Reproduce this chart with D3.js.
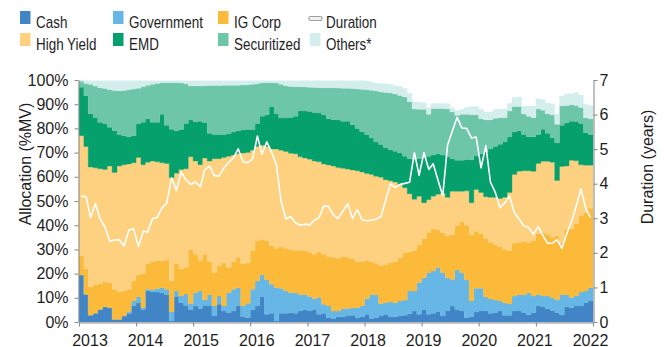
<!DOCTYPE html>
<html>
<head>
<meta charset="utf-8">
<script src="https://cdn.jsdelivr.net/npm/d3@7"></script>
<style>
  html, body { margin: 0; padding: 0; background: #fff; }
  svg { display: block; font-family: "Liberation Sans", Arial, sans-serif; }
</style>
</head>
<body>
<svg id="chart" width="666" height="347"></svg>
<script>
// Monthly portfolio allocation (% of market value), Jan 2013 - Dec 2021
const firstYear = 2013;
const seriesNames = ["Cash", "Government", "IG Corp", "High Yield", "EMD", "Securitized", "Others*"];

const cash = [19.4, 11.4, 2.8, 3.6, 5.2, 6.3, 5.9, 1.0, 1.0, 2.5,
  3.5, 6.6, 8.0, 5.2, 12.8, 12.5, 12.4, 12.1, 11.4, 0.4,
  10.5, 8.0, 6.9, 5.2, 6.6, 5.6, 6.9, 6.6, 2.5, 7.3,
  4.5, 3.9, 4.5, 6.6, 2.2, 1.8, 5.2, 6.6, 10.5, 3.2,
  3.6, 0.4, 3.6, 3.6, 3.9, 3.6, 4.5, 5.2, 4.5, 5.2,
  3.2, 3.6, 1.8, 1.4, 2.2, 2.2, 2.5, 2.8, 1.8, 2.1,
  3.2, 1.4, 1.7, 2.5, 3.2, 2.2, 2.2, 2.5, 2.8, 3.4,
  4.5, 3.2, 5.2, 3.2, 3.6, 4.3, 2.5, 4.5, 6.6, 5.2,
  4.5, 1.8, 2.2, 4.1, 4.8, 4.5, 3.6, 3.9, 4.5, 2.8,
  2.8, 4.5, 4.8, 3.9, 3.0, 3.9, 6.6, 6.2, 5.5, 4.8,
  3.9, 2.9, 6.3, 5.9, 6.6, 6.6, 8.0, 8.7];

const government = [0, 0, 0, 0, 0, 0, 0, 0, 0, 0,
  0.8, 2.1, 2.5, 0.7, 0.7, 0.7, 1.4, 2.1, 2.1, 3.7,
  2.3, 2.7, 4.7, 2.4, 5.5, 7.2, 2.2, 4.8, 4.1, 3.4,
  2.1, 8.2, 9.0, 7.6, 4.4, 5.9, 8.3, 10.3, 8.9, 14.2,
  12.0, 13.8, 10.3, 9.2, 8.2, 8.5, 6.9, 6.2, 6.0, 4.4,
  6.9, 3.7, 4.8, 3.1, 2.3, 3.3, 3.1, 3.0, 4.1, 4.5,
  6.4, 10.0, 9.5, 5.1, 4.8, 6.1, 5.8, 6.2, 6.3, 9.4,
  8.3, 13.1, 13.1, 17.2, 17.5, 18.2, 17.9, 13.8, 11.0, 16.4,
  15.7, 15.6, 6.5, 9.8, 9.1, 5.8, 6.0, 5.2, 4.2, 5.2,
  4.6, 6.2, 6.6, 7.3, 9.1, 6.8, 4.8, 4.5, 5.2, 5.3,
  5.2, 8.5, 4.9, 4.2, 4.1, 5.8, 4.8, 5.5];

const igCorp = [8.1, 10.6, 11.7, 11.7, 10.6, 10.2, 10.3, 12.5, 11.5, 10.3,
  9.2, 8.3, 9.0, 14.1, 10.5, 11.6, 11.5, 11.1, 12.3, 12.9,
  11.2, 11.3, 11.0, 22.4, 15.9, 12.7, 18.9, 13.6, 13.9, 12.6,
  17.9, 10.4, 11.5, 12.6, 17.4, 16.8, 16.0, 16.6, 14.8, 16.1,
  15.9, 16.3, 17.1, 17.7, 17.9, 17.4, 18.3, 17.9, 18.3, 18.4,
  18.9, 20.7, 20.4, 22.3, 21.8, 21.7, 21.2, 20.2, 18.9, 18.4,
  15.7, 13.6, 13.1, 15.7, 15.8, 16.2, 17.0, 17.8, 19.4, 16.2,
  16.7, 15.5, 16.2, 16.6, 17.4, 15.5, 16.6, 17.2, 18.4, 18.4,
  21.3, 22.6, 27.3, 23.6, 22.6, 24.2, 23.4, 22.9, 22.3, 22.0,
  22.1, 21.8, 21.6, 22.1, 20.9, 22.8, 25.1, 26.1, 25.6, 24.9,
  26.4, 21.1, 26.8, 28.4, 29.8, 31.4, 32.4, 32.8];

const highYield = [49.5, 50.5, 49.5, 48.4, 47.5, 46.5, 48.3, 48.3, 52.0, 52.2,
  51.8, 48.8, 48.5, 45.0, 42.0, 41.7, 40.9, 40.5, 39.7, 42.6,
  37.5, 41.0, 40.7, 38.3, 38.5, 39.5, 39.8, 41.5, 47.0, 44.2,
  43.5, 46.0, 44.0, 42.7, 45.8, 45.5, 41.5, 39.0, 38.8, 39.0,
  40.0, 41.0, 40.0, 40.0, 39.7, 40.0, 38.6, 38.5, 38.5, 38.5,
  37.2, 37.3, 37.9, 37.7, 37.5, 36.3, 36.4, 36.8, 37.7, 37.0,
  36.1, 36.0, 35.9, 36.5, 35.0, 33.9, 32.8, 30.3, 27.0, 24.0,
  21.2, 20.2, 14.8, 13.5, 13.5, 14.8, 16.2, 16.0, 18.0, 14.0,
  12.5, 14.2, 13.3, 17.3, 17.0, 17.3, 18.5, 19.5, 20.0, 21.5,
  24.0, 28.5, 29.3, 29.2, 29.5, 28.8, 29.0, 29.6, 30.1, 31.0,
  23.0, 31.8, 26.5, 28.3, 26.1, 21.2, 19.6, 17.8];

const emd = [20.0, 21.0, 22.0, 20.8, 19.2, 19.0, 16.0, 17.2, 13.0, 12.0,
  11.2, 11.2, 14.0, 17.5, 18.0, 16.0, 16.3, 20.0, 15.8, 20.0,
  17.5, 16.5, 18.7, 15.2, 16.1, 18.0, 14.6, 11.5, 10.0, 10.0,
  9.5, 9.3, 9.5, 9.5, 9.5, 9.5, 8.5, 9.5, 12.0, 13.0,
  17.5, 14.5, 13.3, 13.8, 14.8, 15.5, 18.9, 19.4, 19.7, 20.1,
  20.2, 20.2, 19.1, 19.1, 19.7, 19.5, 19.8, 18.7, 17.5, 16.6,
  16.1, 15.0, 14.3, 13.5, 13.2, 12.8, 12.8, 13.0, 13.0, 14.5,
  16.5, 15.5, 18.7, 18.0, 17.0, 16.7, 15.8, 16.9, 13.5, 12.8,
  12.8, 13.0, 17.7, 13.8, 16.0, 18.5, 20.0, 21.0, 22.5, 23.0,
  23.0, 17.5, 16.7, 15.0, 14.0, 14.2, 12.0, 13.2, 11.6, 10.0,
  15.5, 17.0, 17.8, 16.2, 16.2, 17.0, 13.4, 12.7];

const securitized = [2.5, 5.1, 12.2, 13.0, 14.3, 14.5, 15.5, 16.7, 18.1, 18.7,
  19.5, 19.3, 14.6, 14.7, 13.8, 15.7, 16.1, 13.1, 17.6, 19.3,
  19.9, 19.3, 16.5, 14.1, 14.9, 14.5, 15.2, 19.7, 20.2, 20.2,
  20.3, 20.0, 19.3, 18.8, 18.6, 18.5, 18.7, 16.5, 13.8, 13.4,
  9.9, 12.8, 13.9, 13.3, 12.8, 12.2, 10.0, 9.9, 10.0, 10.3,
  10.4, 11.3, 12.8, 13.2, 13.2, 13.6, 13.6, 15.0, 16.3, 17.6,
  18.5, 19.8, 21.0, 21.7, 22.8, 23.4, 23.6, 23.8, 24.5, 23.5,
  20.8, 20.4, 19.9, 17.3, 19.2, 18.7, 19.2, 19.6, 19.3, 18.6,
  19.0, 18.6, 18.6, 17.0, 14.5, 13.2, 12.0, 11.7, 10.9, 9.9,
  10.7, 10.5, 10.0, 8.5, 8.5, 7.9, 10.5, 7.9, 8.0, 9.5,
  7.7, 8.0, 7.2, 6.8, 6.7, 6.6, 6.2, 6.5];

const others = [0.5, 1.2, 1.5, 2.2, 2.9, 3.2, 3.7, 4.0, 4.1, 4.0,
  3.7, 3.4, 3.1, 2.5, 1.9, 1.5, 1.1, 0.8, 0.8, 0.8,
  0.8, 0.9, 1.2, 2.1, 2.2, 2.2, 2.1, 2.0, 2.0, 2.0,
  1.9, 1.9, 1.9, 1.9, 1.8, 1.7, 1.5, 1.2, 0.9, 0.8,
  0.8, 0.9, 1.5, 2.1, 2.4, 2.5, 2.5, 2.6, 2.7, 2.8,
  2.9, 2.9, 2.9, 2.9, 3.0, 3.1, 3.1, 3.2, 3.4, 3.5,
  3.6, 3.4, 3.3, 3.6, 3.6, 3.6, 3.4, 3.7, 3.5, 3.5,
  3.0, 2.9, 2.7, 2.7, 2.1, 2.1, 2.1, 2.2, 1.7, 2.0,
  2.0, 2.9, 3.4, 3.4, 3.9, 3.3, 3.3, 3.6, 3.6, 3.6,
  3.2, 3.8, 4.0, 3.3, 4.3, 4.9, 4.3, 4.5, 4.5, 4.7,
  4.3, 4.1, 4.7, 4.5, 5.3, 5.2, 5.6, 5.5];

// Portfolio duration in years (right axis)
const duration = [3.64, 3.62, 3.02, 3.43, 2.98, 2.75, 2.34, 2.37, 2.38, 2.20,
  2.66, 2.70, 2.18, 2.63, 2.60, 2.99, 3.02, 3.31, 3.43, 4.17,
  3.80, 4.34, 4.11, 3.98, 4.05, 3.91, 4.40, 4.51, 4.24, 4.22,
  4.46, 4.61, 4.75, 5.01, 4.63, 4.61, 4.71, 5.38, 4.85, 5.21,
  4.92, 4.56, 3.50, 2.98, 3.05, 2.87, 2.80, 2.83, 2.81, 2.95,
  3.02, 3.36, 3.34, 3.10, 2.99, 3.21, 3.42, 2.99, 3.25, 2.96,
  2.93, 2.95, 2.97, 3.05, 3.52, 4.00, 3.89, 3.98, 4.01, 4.04,
  4.90, 4.24, 4.90, 4.41, 4.58, 4.10, 3.65, 5.12, 5.52, 5.92,
  5.61, 5.60, 5.32, 5.35, 4.46, 5.10, 4.05, 3.75, 3.31, 3.45,
  3.64, 3.16, 2.97, 2.78, 2.73, 2.54, 2.76, 2.49, 2.28, 2.28,
  2.38, 2.13, 2.54, 2.90, 3.36, 3.85, 3.28, 3.02];

const yearTicks = [2013, 2014, 2015, 2016, 2017, 2018, 2019, 2020, 2021, 2022];
const allocTicks = [0, 10, 20, 30, 40, 50, 60, 70, 80, 90, 100];
const durationTicks = [0, 1, 2, 3, 4, 5, 6, 7];

const colors = ["#4285c6", "#66b7e5", "#fbba3a", "#fdd17f", "#05a06b", "#6ec6a8", "#d4eeee"];
const keys = ["cash", "government", "igCorp", "highYield", "emd", "securitized", "others"];
const valueArrays = [cash, government, igCorp, highYield, emd, securitized, others];

const svg = d3.select("#chart");
const axisColor = "#8c8c8c";
const textColor = "#1e1e1e";
const fontStack = '"Liberation Sans", Arial, sans-serif';

const x = d3.scaleTime()
  .domain([new Date(firstYear, 0, 1), new Date(yearTicks[yearTicks.length - 1], 0, 1)])
  .range([79, 593]);
// year labels sit on their own slightly narrower band under the ticks
const xLabel = d3.scaleLinear()
  .domain([yearTicks[0], yearTicks[yearTicks.length - 1]])
  .range([90, 590.5]);
const y = d3.scaleLinear().domain([0, 100]).range([322, 80]);
const yDur = d3.scaleLinear().domain([0, 7]).range([322, 80]);

// one row per month; a closing row at the end lets the step area reach the last edge
const rows = cash.map((_, i) => {
  const r = { date: new Date(firstYear, i, 1) };
  keys.forEach((k, j) => { r[k] = valueArrays[j][i]; });
  return r;
});
const closing = Object.assign({}, rows[rows.length - 1], { date: new Date(firstYear, rows.length, 1) });
const stacked = d3.stack().keys(keys)(rows.concat([closing]));

const area = d3.area()
  .curve(d3.curveStepAfter)
  .x(d => x(d.data.date))
  .y0(d => y(d[0]))
  .y1(d => y(d[1]));

svg.append("g").selectAll("path")
  .data(stacked)
  .join("path")
  .attr("d", area)
  .attr("fill", (d, i) => colors[i])
  .attr("stroke", (d, i) => colors[i])
  .attr("stroke-width", 0.3);

// duration line, one point at the middle of each month
const line = d3.line()
  .x((d, i) => x(new Date(firstYear, i, 16)))
  .y(d => yDur(d));
svg.append("path")
  .datum(duration)
  .attr("d", line)
  .attr("fill", "none")
  .attr("stroke", "#ffffff")
  .attr("stroke-width", 1.6)
  .attr("stroke-linejoin", "round");

function styleAxis(g, size) {
  g.selectAll(".domain").attr("stroke", axisColor).attr("stroke-width", 1.1);
  g.selectAll(".tick line").attr("stroke", axisColor).attr("stroke-width", 1.1);
  g.selectAll(".tick text").attr("fill", textColor).style("font-size", size + "px")
    .style("font-family", fontStack);
}

// left axis
svg.append("g")
  .attr("transform", "translate(78.5,0)")
  .call(d3.axisLeft(y).tickValues(allocTicks).tickFormat(d => d + "%")
    .tickSize(4).tickSizeOuter(0).tickPadding(6))
  .call(g => styleAxis(g, 16));

// right axis
svg.append("g")
  .attr("transform", "translate(593.5,0)")
  .call(d3.axisRight(yDur).tickValues(durationTicks).tickFormat(d3.format("d"))
    .tickSize(4).tickSizeOuter(0).tickPadding(2))
  .call(g => styleAxis(g, 16));

// bottom axis: tick marks on the year boundaries, labels drawn below
svg.append("g")
  .attr("transform", "translate(0,322.5)")
  .call(d3.axisBottom(x).tickValues(yearTicks.map(yr => new Date(yr, 0, 1)))
    .tickFormat("").tickSize(4).tickSizeOuter(0))
  .call(g => styleAxis(g, 15.5));

svg.append("g").selectAll("text")
  .data(yearTicks)
  .join("text")
  .attr("x", d => xLabel(d))
  .attr("y", 345.5)
  .attr("text-anchor", "middle")
  .attr("fill", textColor)
  .style("font-size", "16px")
  .text(d => d);

// axis titles
svg.append("text")
  .attr("transform", "translate(31,164) rotate(-90)")
  .attr("text-anchor", "middle")
  .attr("fill", textColor)
  .style("font-size", "16px")
  .text("Allocation (%MV)");

svg.append("text")
  .attr("transform", "translate(653,167) rotate(-90)")
  .attr("text-anchor", "middle")
  .attr("fill", textColor)
  .style("font-size", "16px")
  .text("Duration (years)");

// legend (slightly condensed lettering)
const legendCols = [20, 113, 218, 310];
const legendRows = [11, 33];
const legendItems = [
  { name: seriesNames[0], color: colors[0], col: 0, row: 0 },
  { name: seriesNames[1], color: colors[1], col: 1, row: 0 },
  { name: seriesNames[2], color: colors[2], col: 2, row: 0 },
  { name: "Duration", line: true, col: 3, row: 0 },
  { name: seriesNames[3], color: colors[3], col: 0, row: 1 },
  { name: seriesNames[4], color: colors[4], col: 1, row: 1 },
  { name: seriesNames[5], color: colors[5], col: 2, row: 1 },
  { name: seriesNames[6], color: colors[6], col: 3, row: 1 }
];
const legend = svg.append("g");
legendItems.forEach(it => {
  const lx = legendCols[it.col];
  const ly = legendRows[it.row];
  if (it.line) {
    legend.append("rect")
      .attr("x", lx - 1).attr("y", ly + 5.5).attr("width", 13).attr("height", 4)
      .attr("rx", 1.5)
      .attr("fill", "#f2f2f2").attr("stroke", "#a0a0a0").attr("stroke-width", 1.2);
  } else {
    legend.append("rect")
      .attr("x", lx).attr("y", ly).attr("width", 10.5).attr("height", 13)
      .attr("fill", it.color);
  }
  legend.append("text")
    .attr("transform", `translate(${lx + 16},${ly + 16.8}) scale(0.84,1)`)
    .attr("fill", textColor)
    .style("font-size", "16px")
    .text(it.name);
});
</script>
</body>
</html>
